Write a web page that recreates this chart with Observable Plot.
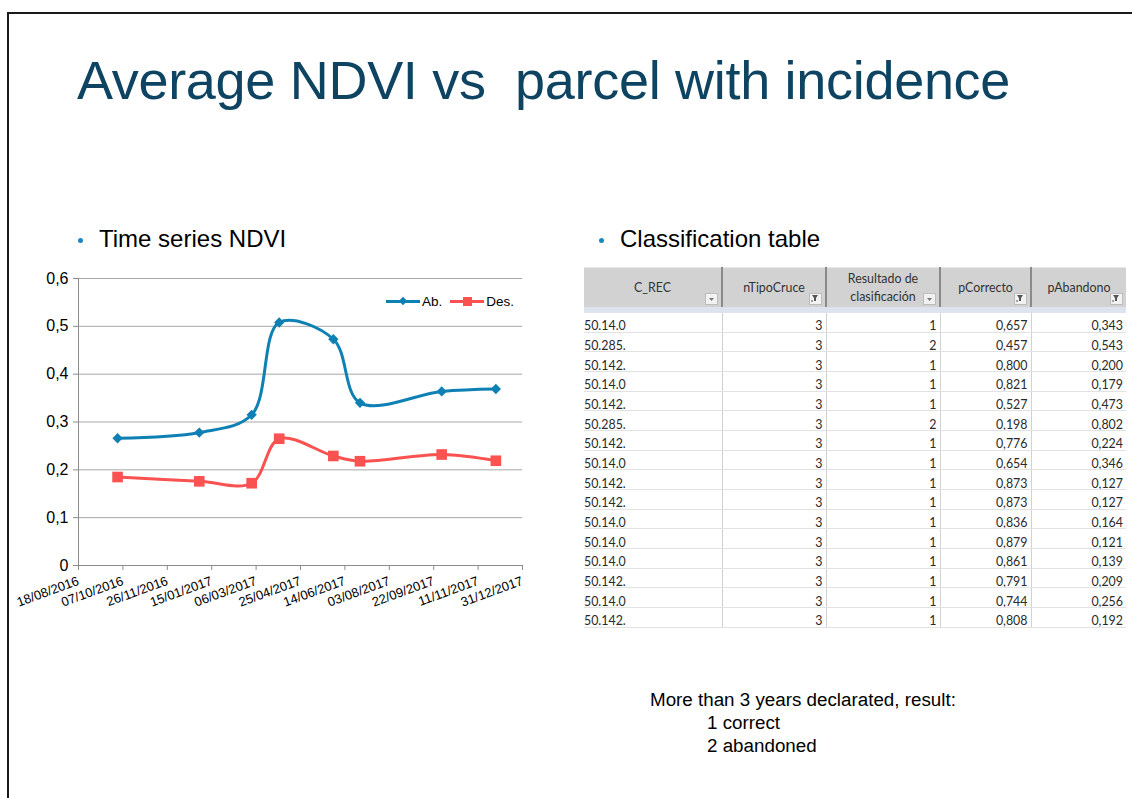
<!DOCTYPE html>
<html>
<head>
<meta charset="utf-8">
<script src="https://cdn.jsdelivr.net/npm/d3@7"></script>
<script src="https://cdn.jsdelivr.net/npm/@observablehq/plot@0.6"></script>
<style>
  html, body { margin: 0; padding: 0; }
  body { width: 1132px; height: 798px; overflow: hidden; background: #fff; position: relative;
         font-family: "Liberation Sans", Arial, sans-serif; }
  #frame { position: absolute; left: 7px; top: 12px; width: 1300px; height: 900px;
           border-left: 2px solid #1a1a1a; border-top: 2px solid #1a1a1a; }
  #title { position: absolute; left: 77px; top: 53px; font-size: 54px; line-height: 1;
           color: #0e4461; white-space: nowrap; letter-spacing: -0.3px; }
  .bul { position: absolute; font-size: 24px; line-height: 1; white-space: nowrap; color: #000; }
  .bul .dot { position: absolute; width: 5px; height: 5px; border-radius: 50%; background: #1b86bf; left: -21px; top: 11px; }
  #chart { position: absolute; left: 0; top: 260px; }
  #chart svg { overflow: visible; }
  #legend { position: absolute; left: 386px; top: 292px; height: 18px; font-size: 13.5px; color: #000;
            display: flex; align-items: center; white-space: nowrap; }
  #legend .sw { position: relative; width: 34px; height: 3px; margin-right: 2px; }
  #legend .mk { position: absolute; left: 50%; top: 50%; }
  #legend .lab { margin-right: 8px; }
  #table { position: absolute; left: 584px; top: 267px; width: 542px; font-family: Lato, "Open Sans", sans-serif;
           font-size: 12.4px; color: #2a2a2a; }
  table { border-collapse: collapse; table-layout: fixed; width: 542px; }
  th { background: #d2d2d2; font-weight: normal; height: 39px; padding: 0; position: relative;
       border-left: 2px solid #8a8a8a; border-top: 1px solid #e6e6e6; line-height: 18px; color: #333; }
  th:first-child { border-left: none; }
  th .ic { position: absolute; right: 3px; bottom: 2px; width: 11px; height: 10px; background: #f2f2f2;
           border: 1px solid #bdbdbd; font-size: 7px; line-height: 10px; text-align: center; color: #666; }
  tr.band td { height: 6px; background: #dde4ee; padding: 0; border: none; }
  td { height: 16.67px; padding: 2px 3px 0 0; text-align: right; border-bottom: 1px solid #e2e2e2;
       border-left: 1px solid #d2d2d2; line-height: 16px; white-space: nowrap; overflow: hidden; }
  td span { position: relative; top: 3px; }
  td:first-child { text-align: left; border-left: none; padding-left: 0; }
  #note { position: absolute; left: 650px; top: 688px; font-size: 18.8px; line-height: 23px; color: #000; white-space: nowrap; }
  #note .ind { padding-left: 57px; }
</style>
</head>
<body>
<div id="frame"></div>
<div id="title">Average NDVI vs&nbsp; parcel with incidence</div>
<div class="bul" style="left:99px; top:227px;"><span class="dot"></span>Time series NDVI</div>
<div class="bul" style="left:620px; top:227px;"><span class="dot"></span>Classification table</div>
<div id="chart"></div>
<div id="legend"></div>
<div id="table"></div>
<div id="note">More than 3 years declarated, result:<br><span class="ind">1 correct</span><br><span class="ind">2 abandoned</span></div>

<script>
// ---- Chart data ----
const dates = ["2016-10-01", "2017-01-01", "2017-03-01", "2017-04-01", "2017-06-01", "2017-07-01", "2017-10-01", "2017-12-01"];
const abValues = [0.266, 0.278, 0.315, 0.508, 0.473, 0.340, 0.364, 0.369];
const desValues = [0.185, 0.176, 0.172, 0.265, 0.229, 0.218, 0.232, 0.219];
const seriesNames = ["Ab.", "Des."];
const seriesColors = ["#0f80b4", "#fa5151"];
const xTickLabels = ["18/08/2016", "07/10/2016", "26/11/2016", "15/01/2017", "06/03/2017", "25/04/2017",
                     "14/06/2017", "03/08/2017", "22/09/2017", "11/11/2017", "31/12/2017"];
const yTickValues = [0, 0.1, 0.2, 0.3, 0.4, 0.5, 0.6];
const yTickLabels = ["0", "0,1", "0,2", "0,3", "0,4", "0,5", "0,6"];

// ---- Table data ----
const tableHeaders = ["C_REC", "nTipoCruce", "Resultado de<br>clasificación", "pCorrecto", "pAbandono"];
const headerFiltered = [false, true, false, true, true];
const cRec = ["50.14.0", "50.285.", "50.142.", "50.14.0", "50.142.", "50.285.", "50.142.", "50.14.0",
              "50.142.", "50.142.", "50.14.0", "50.14.0", "50.14.0", "50.142.", "50.14.0", "50.142."];
const nTipoCruce = [3, 3, 3, 3, 3, 3, 3, 3, 3, 3, 3, 3, 3, 3, 3, 3];
const resultado = [1, 2, 1, 1, 1, 2, 1, 1, 1, 1, 1, 1, 1, 1, 1, 1];
const pCorrecto = ["0,657", "0,457", "0,800", "0,821", "0,527", "0,198", "0,776", "0,654",
                   "0,873", "0,873", "0,836", "0,879", "0,861", "0,791", "0,744", "0,808"];
const pAbandono = ["0,343", "0,543", "0,200", "0,179", "0,473", "0,802", "0,224", "0,346",
                   "0,127", "0,127", "0,164", "0,121", "0,139", "0,209", "0,256", "0,192"];

// ---- Build chart ----
const parseDMY = d3.utcParse("%d/%m/%Y");
const xTicks = xTickLabels.map(parseDMY);
const data = [];
dates.forEach((d, i) => {
  data.push({date: new Date(d), value: abValues[i], series: seriesNames[0]});
  data.push({date: new Date(d), value: desValues[i], series: seriesNames[1]});
});

const chart = Plot.plot({
  width: 560, height: 360,
  marginLeft: 78, marginRight: 38, marginTop: 18, marginBottom: 55,
  style: {fontFamily: "'Liberation Sans', Arial, sans-serif", fontSize: "15px", color: "#000", background: "transparent"},
  x: {type: "utc", domain: [xTicks[0], xTicks[xTicks.length - 1]]},
  y: {domain: [yTickValues[0], yTickValues[yTickValues.length - 1]]},
  color: {domain: seriesNames, range: seriesColors},
  marks: [
    Plot.gridY(yTickValues, {stroke: "#a8a8a8", strokeOpacity: 1, strokeWidth: 1}),
    Plot.ruleX([xTicks[0]], {stroke: "#8c8c8c"}),
    Plot.ruleY([0], {stroke: "#8c8c8c"}),
    Plot.axisY(yTickValues, {tickSize: 5, tickPadding: 5, stroke: "#8c8c8c", fontSize: 16,
      tickFormat: (d) => yTickLabels[yTickValues.indexOf(d)], label: null}),
    Plot.axisX(xTicks, {tickSize: 5, tickPadding: 10, stroke: "#8c8c8c", fontSize: 13, tickRotate: -20,
      tickFormat: (d) => xTickLabels[xTicks.findIndex(t => +t === +d)], label: null}),
    Plot.line(data, {x: "date", y: "value", stroke: "series", curve: "catmull-rom", strokeWidth: 3}),
    Plot.dot(data.filter(d => d.series === seriesNames[0]),
      {x: "date", y: "value", fill: "series", symbol: "square", r: 4.1, rotate: 45, stroke: null}),
    Plot.dot(data.filter(d => d.series === seriesNames[1]),
      {x: "date", y: "value", fill: "series", symbol: "square", r: 6.0, stroke: null})
  ]
});
document.getElementById("chart").appendChild(chart);

// legend
const legend = document.getElementById("legend");
seriesNames.forEach((name, i) => {
  const sw = document.createElement("div");
  sw.className = "sw";
  sw.style.background = seriesColors[i];
  const mk = document.createElement("div");
  mk.className = "mk";
  if (i === 0) {
    mk.style.cssText = `width:6px;height:6px;margin:-3px 0 0 -3px;background:${seriesColors[i]};transform:rotate(45deg);`;
  } else {
    mk.style.cssText = `width:9px;height:9px;margin:-4.5px 0 0 -4.5px;background:${seriesColors[i]};`;
  }
  sw.appendChild(mk);
  legend.appendChild(sw);
  const lab = document.createElement("span");
  lab.className = "lab";
  lab.textContent = name;
  legend.appendChild(lab);
});

// ---- Build table ----
const colWidths = [138, 104, 114, 91, 95];
const funnel = '<svg width="9" height="8" viewBox="0 0 9 8"><path d="M1 1h6L5 4v3H3V4z" fill="#555"/><path d="M0 7h2" stroke="#555"/></svg>';
const arrow = '<svg width="7" height="4" viewBox="0 0 7 4"><path d="M1 0h5L3.5 3z" fill="#777"/></svg>';
let html = "<table><colgroup>" + colWidths.map(w => `<col style="width:${w}px">`).join("") + "</colgroup><tr>";
tableHeaders.forEach((h, i) => {
  html += `<th>${h}<span class="ic">${headerFiltered[i] ? funnel : arrow}</span></th>`;
});
html += "</tr><tr class='band'><td></td><td></td><td></td><td></td><td></td></tr>";
cRec.forEach((c, i) => {
  html += `<tr><td><span>${c}</span></td><td><span>${nTipoCruce[i]}</span></td><td><span>${resultado[i]}</span></td>` +
          `<td><span>${pCorrecto[i]}</span></td><td><span>${pAbandono[i]}</span></td></tr>`;
});
html += "</table>";
document.getElementById("table").innerHTML = html;
</script>
</body>
</html>
